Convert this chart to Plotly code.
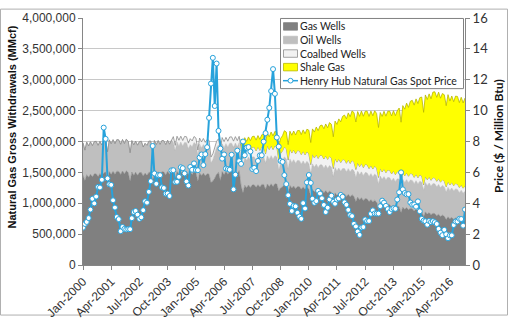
import pandas as pd
import plotly.graph_objects as go

# Monthly axis: Jan-2000 .. Dec-2016
months = pd.date_range("2000-01-01", "2016-12-01", freq="MS")
shale_start = "2007-01-01"
coalbed_start = "2004-01-01"

# Gross withdrawals by source, thousand MMcf per month
gas_wells_k = [
    1455, 1368, 1462, 1420, 1470, 1428, 1475, 1478, 1432, 1482, 1440, 1488,  # 2000
    1505, 1372, 1512, 1468, 1518, 1470, 1520, 1515, 1465, 1522, 1475, 1525,  # 2001
    1498, 1360, 1505, 1455, 1502, 1452, 1495, 1500, 1440, 1490, 1452, 1500,  # 2002
    1502, 1365, 1508, 1460, 1510, 1465, 1512, 1505, 1462, 1515, 1468, 1520,  # 2003
    1512, 1410, 1515, 1470, 1518, 1468, 1515, 1512, 1465, 1510, 1465, 1515,  # 2004
    1495, 1355, 1492, 1448, 1488, 1445, 1478, 1470, 1335, 1360, 1405, 1470,  # 2005
    1500, 1368, 1512, 1465, 1515, 1470, 1520, 1522, 1475, 1525, 1478, 1528,  # 2006
    1285, 1170, 1292, 1252, 1295, 1255, 1298, 1300, 1258, 1302, 1262, 1305,  # 2007
    1305, 1225, 1312, 1270, 1315, 1272, 1318, 1310, 1200, 1250, 1265, 1305,  # 2008
    1295, 1168, 1290, 1245, 1280, 1235, 1272, 1270, 1228, 1265, 1225, 1262,  # 2009
    1230, 1112, 1225, 1185, 1220, 1178, 1212, 1210, 1170, 1205, 1165, 1198,  # 2010
    1175, 1060, 1168, 1128, 1160, 1122, 1152, 1150, 1110, 1145, 1105, 1138,  # 2011
    1110, 1030, 1100, 1058, 1090, 1045, 1078, 1070, 1028, 1060, 1022, 1050,  # 2012
    1020, 920, 1010, 972, 1000, 960, 985, 978, 940, 968, 928, 955,  # 2013
    945, 850, 938, 902, 930, 895, 920, 912, 875, 905, 868, 895,  # 2014
    870, 782, 860, 825, 850, 815, 838, 832, 798, 822, 785, 808,  # 2015
    790, 735, 780, 748, 772, 740, 760, 752, 720, 742, 712, 730,  # 2016
]

oil_wells_k = [
    525, 492, 528, 508, 525, 505, 522, 525, 505, 522, 503, 520,  # 2000
    512, 462, 515, 495, 512, 494, 510, 512, 490, 510, 492, 512,  # 2001
    508, 458, 510, 490, 505, 488, 502, 505, 470, 480, 485, 505,  # 2002
    505, 458, 508, 490, 506, 488, 505, 506, 488, 505, 488, 505,  # 2003
    472, 440, 475, 458, 472, 455, 470, 468, 415, 438, 450, 468,  # 2004
    462, 418, 465, 448, 462, 445, 455, 448, 315, 340, 398, 432,  # 2005
    445, 405, 450, 435, 450, 435, 450, 450, 432, 450, 435, 452,  # 2006
    452, 410, 455, 440, 455, 440, 452, 450, 435, 452, 438, 455,  # 2007
    452, 422, 455, 440, 455, 438, 450, 440, 340, 390, 425, 445,  # 2008
    425, 385, 428, 412, 425, 410, 422, 420, 405, 420, 405, 418,  # 2009
    412, 372, 412, 398, 412, 398, 410, 412, 398, 412, 398, 412,  # 2010
    408, 368, 410, 395, 410, 395, 410, 412, 398, 415, 400, 415,  # 2011
    415, 388, 418, 402, 418, 402, 418, 420, 405, 420, 405, 422,  # 2012
    425, 385, 430, 415, 432, 418, 435, 435, 420, 438, 422, 440,  # 2013
    445, 402, 448, 435, 452, 438, 455, 458, 442, 460, 445, 462,  # 2014
    470, 425, 475, 460, 478, 462, 480, 482, 465, 482, 465, 480,  # 2015
    475, 445, 478, 460, 475, 458, 472, 470, 452, 468, 450, 465,  # 2016
]

# Coalbed wells, reported from Jan-2004
coalbed_k = [
    95, 88, 96, 92, 96, 93, 97, 97, 94, 98, 94, 98,  # 2004
    98, 89, 99, 96, 99, 96, 100, 100, 97, 100, 97, 101,  # 2005
    101, 92, 102, 98, 102, 99, 103, 103, 99, 104, 100, 104,  # 2006
    155, 142, 157, 152, 158, 153, 158, 160, 155, 160, 155, 160,  # 2007
    162, 152, 163, 158, 164, 159, 164, 164, 158, 164, 158, 163,  # 2008
    162, 146, 161, 156, 160, 155, 160, 159, 154, 158, 153, 157,  # 2009
    156, 141, 155, 150, 155, 149, 154, 153, 148, 152, 147, 151,  # 2010
    148, 133, 147, 142, 146, 141, 145, 144, 139, 143, 138, 142,  # 2011
    138, 128, 137, 132, 136, 130, 134, 133, 128, 132, 127, 130,  # 2012
    125, 112, 124, 119, 122, 117, 120, 119, 114, 118, 113, 116,  # 2013
    112, 100, 110, 106, 109, 104, 107, 106, 102, 105, 100, 103,  # 2014
    100, 90, 99, 95, 98, 94, 97, 96, 92, 95, 91, 94,  # 2015
    92, 85, 91, 87, 90, 86, 88, 87, 83, 86, 82, 85,  # 2016
]

# Shale gas, reported from Jan-2007
shale_k = [
    150, 140, 158, 158, 166, 165, 172, 176, 174, 182, 180, 188,  # 2007
    195, 188, 208, 208, 220, 220, 232, 236, 220, 245, 245, 262,  # 2008
    272, 250, 288, 288, 305, 305, 322, 330, 325, 345, 342, 362,  # 2009
    385, 358, 412, 420, 448, 450, 478, 492, 490, 515, 512, 545,  # 2010
    548, 515, 605, 612, 650, 660, 700, 722, 720, 760, 758, 800,  # 2011
    805, 770, 830, 815, 850, 832, 860, 868, 845, 880, 862, 895,  # 2012
    885, 810, 905, 900, 935, 915, 950, 960, 940, 975, 955, 985,  # 2013
    1040, 960, 1085, 1080, 1130, 1115, 1170, 1190, 1170, 1220, 1200, 1250,  # 2014
    1280, 1175, 1320, 1300, 1345, 1320, 1385, 1395, 1360, 1400, 1360, 1395,  # 2015
    1400, 1315, 1410, 1360, 1400, 1360, 1415, 1420, 1375, 1420, 1380, 1425,  # 2016
]

# Henry Hub spot price, $ / million Btu
henry_hub = [
    2.42, 2.66, 2.79, 3.04, 3.59, 4.29, 3.99, 4.43, 5.06, 5.02, 5.52, 8.90,
    8.17, 5.61, 5.23, 5.19, 4.19, 3.72, 3.11, 2.97, 2.19, 2.46, 2.34, 2.30,
    2.32, 2.32, 3.03, 3.43, 3.50, 3.26, 2.99, 3.09, 3.55, 4.13, 4.04, 4.74,
    5.43, 7.71, 5.93, 5.26, 5.81, 5.82, 5.03, 4.99, 4.62, 4.63, 4.47, 6.13,
    6.14, 5.37, 5.39, 5.71, 6.33, 6.27, 5.93, 5.41, 5.15, 6.35, 6.17, 6.58,
    6.15, 6.14, 6.96, 7.16, 6.47, 7.18, 7.63, 9.53, 11.75, 13.42, 10.30, 13.05,
    8.69, 7.54, 6.89, 7.16, 6.25, 6.21, 6.17, 7.14, 4.90, 5.85, 7.41, 6.73,
    6.55, 8.00, 7.11, 7.60, 7.64, 7.35, 6.22, 6.29, 6.08, 6.74, 7.10, 7.11,
    7.99, 8.54, 9.41, 10.18, 11.27, 12.69, 11.09, 8.26, 7.67, 6.74, 6.68, 5.82,
    5.24, 4.52, 3.96, 3.50, 3.83, 3.80, 3.38, 3.14, 2.99, 4.01, 3.66, 5.35,
    5.83, 5.32, 4.29, 4.03, 4.14, 4.80, 4.63, 4.32, 3.89, 3.43, 3.71, 4.25,
    4.49, 4.09, 3.97, 4.24, 4.31, 4.54, 4.42, 4.06, 3.90, 3.57, 3.24, 3.17,
    2.67, 2.50, 2.17, 1.95, 2.43, 2.46, 2.95, 2.84, 2.85, 3.32, 3.54, 3.34,
    3.33, 3.33, 3.81, 4.17, 4.04, 3.83, 3.62, 3.43, 3.62, 3.68, 3.64, 4.24,
    4.71, 6.00, 4.90, 4.66, 4.58, 4.59, 4.05, 3.91, 3.92, 3.78, 4.12, 3.48,
    2.99, 2.87, 2.83, 2.61, 2.85, 2.78, 2.84, 2.77, 2.66, 2.34, 2.09, 1.93,
    2.28, 1.99, 1.73, 1.92, 1.92, 2.59, 2.82, 2.82, 2.99, 2.98, 2.55, 3.59,
]

left_ticks = list(range(0, 4_000_001, 500_000))
right_ticks = list(range(0, 17, 2))

series_names = ["Gas Wells", "Oil Wells", "Coalbed Wells", "Shale Gas",
                "Henry Hub Natural Gas Spot Price"]
fill_colors = ["#808080", "#bfbfbf", "#f2f2f2", "#ffff00"]
edge_colors = ["#808080", "#b0b0b0", "#8c8c8c", "#b8b800"]
price_color = "#27a2db"

# ---- build stacked layers (MMcf) ----
df = pd.DataFrame(index=months)
df["gas"] = pd.Series(gas_wells_k, index=months) * 1000
df["oil"] = pd.Series(oil_wells_k, index=months) * 1000
coal_idx = pd.date_range(coalbed_start, months[-1], freq="MS")
shale_idx = pd.date_range(shale_start, months[-1], freq="MS")
df["coal"] = pd.Series(coalbed_k, index=coal_idx).reindex(months).fillna(0) * 1000
df["shale"] = pd.Series(shale_k, index=shale_idx).reindex(months) * 1000

df["gas_top"] = df["gas"]
df["oil_top"] = df["gas_top"] + df["oil"]
df["coal_top"] = df["oil_top"] + df["coal"]
df["shale_top"] = df["coal_top"] + df["shale"]
late = df.loc[shale_start:]

fig = go.Figure()
fig.add_trace(go.Scatter(
    x=df.index, y=df["gas_top"], name=series_names[0], mode="lines",
    fill="tozeroy", fillcolor=fill_colors[0],
    line=dict(color=edge_colors[0], width=0.5),
))
fig.add_trace(go.Scatter(
    x=df.index, y=df["oil_top"], name=series_names[1], mode="lines",
    fill="tonexty", fillcolor=fill_colors[1],
    line=dict(color=edge_colors[1], width=0.5),
))
fig.add_trace(go.Scatter(
    x=df.index, y=df["coal_top"], name=series_names[2], mode="lines",
    fill="tonexty", fillcolor=fill_colors[2],
    line=dict(color=edge_colors[2], width=0.8),
))
# base of the shale layer (coalbed top over the shale period)
fig.add_trace(go.Scatter(
    x=late.index, y=late["coal_top"], mode="lines",
    hoverinfo="skip", line=dict(width=0, color="rgba(0,0,0,0)"),
))
fig.add_trace(go.Scatter(
    x=late.index, y=late["shale_top"], name=series_names[3], mode="lines",
    fill="tonexty", fillcolor=fill_colors[3],
    line=dict(color=edge_colors[3], width=0.8),
))
fig.add_trace(go.Scatter(
    x=months, y=henry_hub, name=series_names[4],
    mode="lines+markers", yaxis="y2",
    line=dict(color=price_color, width=2),
    marker=dict(symbol="circle", size=5, color="white",
                line=dict(color=price_color, width=1)),
))

axis_font = dict(family="Liberation Sans, Arial", size=12, color="#333333")

fig.update_layout(
    width=508, height=330, autosize=False,
    margin=dict(l=83, r=43, t=10, b=56),
    paper_bgcolor="white", plot_bgcolor="white",
    showlegend=False,
    xaxis=dict(
        type="date", range=[months[0], months[-1]],
        tick0="2000-01-01", dtick="M15", tickformat="%b-%Y",
        tickangle=-45, ticks="outside", ticklen=4, tickcolor="#868686",
        showline=True, linecolor="#868686", linewidth=1,
        showgrid=False, tickfont=axis_font, zeroline=False,
    ),
    yaxis=dict(
        range=[0, 4_000_000], tickvals=left_ticks,
        ticktext=[f"{v:,}" for v in left_ticks],
        ticks="outside", ticklen=4, tickcolor="#868686",
        showline=True, linecolor="#868686", linewidth=1,
        showgrid=True, gridcolor="#c8c8c8", gridwidth=1,
        zeroline=False, tickfont=axis_font,
    ),
    yaxis2=dict(
        range=[0, 16], tickvals=right_ticks, overlaying="y", side="right",
        ticks="outside", ticklen=4, tickcolor="#868686",
        showline=True, linecolor="#868686", linewidth=1,
        showgrid=False, zeroline=False,
        tickfont=dict(family="Lato", size=13, color="#333333"),
    ),
)

# helpers: pixel position inside the figure -> paper coordinates
PLOT_L, PLOT_W, PLOT_B, PLOT_H = 83, 382, 274, 264


def px(xp):
    return (xp - PLOT_L) / PLOT_W


def py(yp):
    return (PLOT_B - yp) / PLOT_H


# axis titles
fig.add_annotation(
    text="<b>Natural Gas Gross Withdrawals (MMcf)</b>",
    xref="paper", yref="paper", x=px(12), y=py(127),
    xanchor="center", yanchor="middle", textangle=-90, showarrow=False,
    font=dict(family="Liberation Sans, Arial", size=11, color="#111111"),
)
fig.add_annotation(
    text="<b>Price ($ / Million Btu)</b>",
    xref="paper", yref="paper", x=px(499), y=py(136),
    xanchor="center", yanchor="middle", textangle=-90, showarrow=False,
    font=dict(family="Lato", size=12, color="#111111"),
)

# legend box with swatches
fig.add_shape(type="rect", xref="paper", yref="paper",
              x0=px(280.5), x1=px(463.5), y0=py(85.5), y1=py(10.5),
              line=dict(color="#808080", width=1), fillcolor="white", layer="above")
row_y = [19, 33.5, 48, 62.5, 77]
for i, name in enumerate(series_names):
    yc = row_y[i]
    if i < 4:
        fig.add_shape(type="rect", xref="paper", yref="paper",
                      x0=px(283.5), x1=px(297.5), y0=py(yc + 4), y1=py(yc - 4),
                      line=dict(color=edge_colors[i] if i >= 2 else fill_colors[i], width=0.8),
                      fillcolor=fill_colors[i], layer="above")
    else:
        fig.add_shape(type="line", xref="paper", yref="paper",
                      x0=px(283), x1=px(298), y0=py(yc), y1=py(yc),
                      line=dict(color=price_color, width=1.5), layer="above")
        fig.add_shape(type="circle", xref="paper", yref="paper",
                      x0=px(288), x1=px(293), y0=py(yc + 2.5), y1=py(yc - 2.5),
                      line=dict(color=price_color, width=1), fillcolor="white",
                      layer="above")
    fig.add_annotation(
        text=name, xref="paper", yref="paper", x=px(298), y=py(yc),
        xanchor="left", yanchor="middle", showarrow=False,
        font=dict(family="Lato", size=10.5, color="#222222"),
    )

# chart frame
fig.add_shape(
    type="rect", xref="paper", yref="paper",
    x0=px(0.5), x1=px(507.5), y0=py(327.5), y1=py(0.5),
    line=dict(color="#b0b0b0", width=1), fillcolor="rgba(0,0,0,0)", layer="below",
)

fig.write_html("out.html")
